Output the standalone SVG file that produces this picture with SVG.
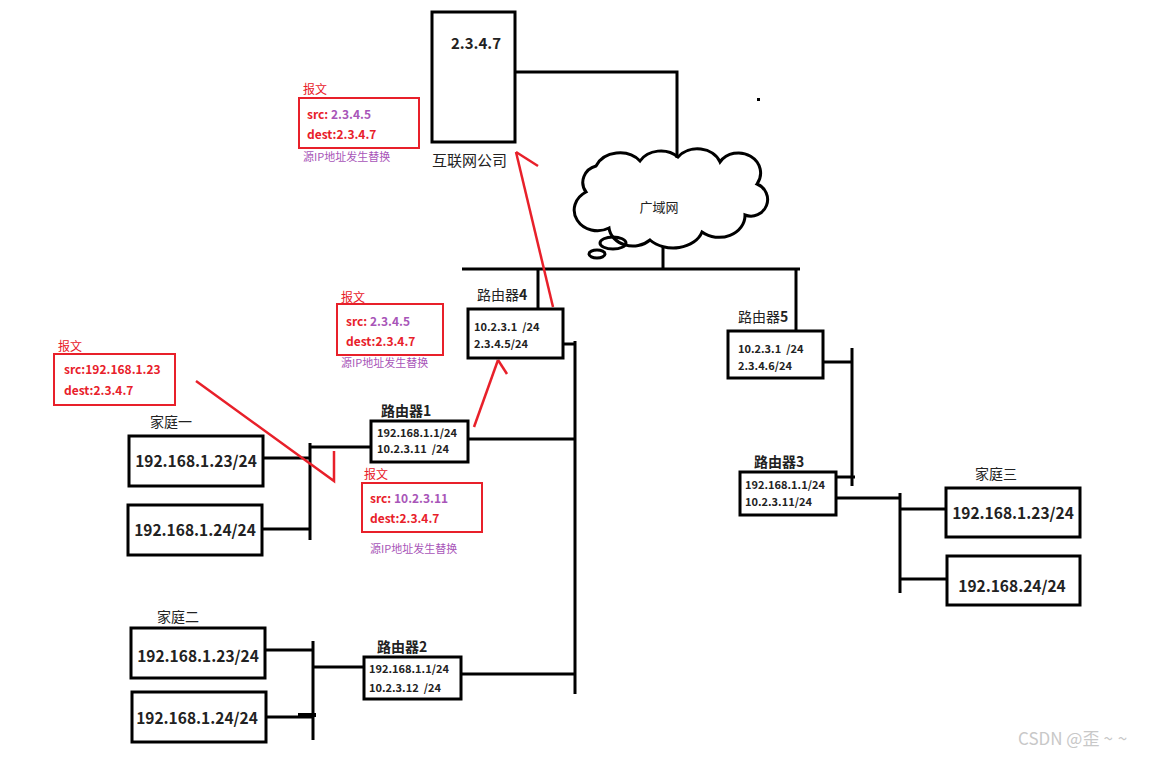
<svg xmlns="http://www.w3.org/2000/svg" width="1164" height="758" viewBox="0 0 1164 758">
<style>
.box{fill:#fff;stroke:#000;stroke-width:3}
.ln{stroke:#000;stroke-width:3;fill:none}
.red{stroke:#e8202a;stroke-width:2.5;fill:none}
.rbox{fill:none;stroke:#e8202a;stroke-width:2}
text{font-family:"Microsoft YaHei","Noto Sans CJK SC","Liberation Sans",sans-serif;fill:#222;white-space:pre}
.host{font-size:15.5px;font-weight:bold}
.rl{font-size:14px}
.ip{font-size:11px;font-weight:bold}
.pk{font-size:12px;font-weight:bold;fill:#e8202a}
.pv{fill:#a855b8}
.pt{font-size:12px;fill:#e8202a}
.note{font-size:11px;fill:#a855b8}
</style>
<rect width="1164" height="758" fill="#fff"/>
<g id="connectors">
<polyline class="ln" points="515,72 677,72 677,158"/>
<line class="ln" x1="663" y1="246" x2="663" y2="269"/>
<line class="ln" x1="462" y1="269" x2="800" y2="269"/>
<line class="ln" x1="538" y1="269" x2="538" y2="309"/>
<line class="ln" x1="796" y1="269" x2="796" y2="331"/>
<polyline class="ln" points="563,344 576,344"/>
<line class="ln" x1="575" y1="341" x2="575" y2="694"/>
<line class="ln" x1="468" y1="439" x2="575" y2="439"/>
<line class="ln" x1="461" y1="674" x2="575" y2="674"/>
<line class="ln" x1="310" y1="443" x2="310" y2="540"/>
<line class="ln" x1="310" y1="447" x2="371" y2="447"/>
<line class="ln" x1="263" y1="458" x2="310" y2="458"/>
<line class="ln" x1="262" y1="529" x2="310" y2="529"/>
<line class="ln" x1="313" y1="641" x2="313" y2="740"/>
<line class="ln" x1="313" y1="667" x2="364" y2="667"/>
<line class="ln" x1="265" y1="650" x2="313" y2="650"/>
<line class="ln" x1="266" y1="717" x2="313" y2="717"/>
<line stroke="#000" stroke-width="4" x1="298" y1="715" x2="316" y2="715"/>
<line class="ln" x1="823" y1="362" x2="852" y2="362"/>
<line class="ln" x1="852" y1="348" x2="852" y2="486"/>
<line class="ln" x1="836" y1="477" x2="855" y2="477"/>
<line class="ln" x1="836" y1="498" x2="900" y2="498"/>
<line class="ln" x1="900" y1="493" x2="900" y2="593"/>
<line class="ln" x1="900" y1="509" x2="946" y2="509"/>
<line class="ln" x1="900" y1="579" x2="947" y2="579"/>
<rect x="757" y="98" width="3" height="3" fill="#000"/>
<polyline class="red" points="196,381 334,481 334,451"/>
<line class="red" x1="474" y1="427" x2="498" y2="360"/>
<line class="red" x1="498" y1="360" x2="507" y2="374"/>
<line class="red" x1="553" y1="307" x2="516" y2="152"/>
<line class="red" x1="516" y1="152" x2="538" y2="166"/>
</g>
<g id="company">
<rect class="box" x="432" y="12" width="83" height="130"/>
<text x="476" y="49" font-size="15" font-weight="bold" text-anchor="middle">2.3.4.7</text>
<text x="432" y="166" font-size="15">互联网公司</text>
</g>
<g id="wan">
<path class="ln" d="M586,192 A18,17 0 0 1 596,166 A26,22 0 0 1 640,161 A24,20 0 0 1 678,157 A24,20 0 0 1 720,162 A22,20 0 0 1 757,184 A16,16 0 0 1 745,215 A26,22 0 0 1 702,232 A30,22 0 0 1 650,240 A24,20 0 0 1 609,228 A18,16 0 0 1 586,192 Z"/>
<ellipse class="ln" cx="613" cy="243" rx="13" ry="6" stroke-width="2.5"/>
<ellipse class="ln" cx="597" cy="254" rx="8" ry="4" stroke-width="2.5"/>
<text x="659" y="212" font-size="13" text-anchor="middle">广域网</text>
</g>
<g id="router4">
<rect class="box" x="468" y="309" width="95" height="49"/>
<text class="rl" x="477" y="300">路由器<tspan font-weight="bold">4</tspan></text>
<text class="ip" x="474" y="331" xml:space="preserve">10.2.3.1  /24</text>
<text class="ip" x="474" y="348">2.3.4.5/24</text>
</g>
<g id="router5">
<rect class="box" x="728" y="331" width="95" height="47"/>
<text class="rl" x="738" y="322">路由器<tspan font-weight="bold">5</tspan></text>
<text class="ip" x="738" y="353" xml:space="preserve">10.2.3.1  /24</text>
<text class="ip" x="738" y="370">2.3.4.6/24</text>
</g>
<g id="router1">
<rect class="box" x="371" y="421" width="97" height="41"/>
<text class="rl" x="381" y="416" font-weight="bold">路由器1</text>
<text class="ip" x="377" y="437">192.168.1.1/24</text>
<text class="ip" x="377" y="453" xml:space="preserve">10.2.3.11  /24</text>
</g>
<g id="router2">
<rect class="box" x="364" y="657" width="97" height="42"/>
<text class="rl" x="377" y="652" font-weight="bold">路由器2</text>
<text class="ip" x="369" y="673">192.168.1.1/24</text>
<text class="ip" x="369" y="692" xml:space="preserve">10.2.3.12  /24</text>
</g>
<g id="router3">
<rect class="box" x="740" y="472" width="96" height="43"/>
<text class="rl" x="754" y="467" font-weight="bold">路由器3</text>
<text class="ip" x="745" y="489">192.168.1.1/24</text>
<text class="ip" x="745" y="506">10.2.3.11/24</text>
</g>
<g id="home1">
<text x="150" y="427" font-size="14">家庭一</text>
<rect class="box" x="129" y="436" width="134" height="50"/>
<text class="host" x="196" y="467" text-anchor="middle">192.168.1.23/24</text>
<rect class="box" x="128" y="505" width="134" height="50"/>
<text class="host" x="195" y="536" text-anchor="middle">192.168.1.24/24</text>
</g>
<g id="home2">
<text x="157" y="622" font-size="14">家庭二</text>
<rect class="box" x="131" y="628" width="134" height="50"/>
<text class="host" x="198" y="662" text-anchor="middle">192.168.1.23/24</text>
<rect class="box" x="132" y="692" width="134" height="50"/>
<text class="host" x="197" y="724" text-anchor="middle">192.168.1.24/24</text>
</g>
<g id="home3">
<text x="975" y="479" font-size="14">家庭三</text>
<rect class="box" x="946" y="488" width="134" height="49"/>
<text class="host" x="1013" y="519" text-anchor="middle">192.168.1.23/24</text>
<rect class="box" x="947" y="556" width="133" height="49"/>
<text class="host" x="1012" y="592" text-anchor="middle">192.168.24/24</text>
</g>
<g id="packet-top">
<text class="pt" x="303" y="94">报文</text>
<rect class="rbox" x="299" y="98" width="120" height="50"/>
<text class="pk" x="307" y="119">src: <tspan class="pv">2.3.4.5</tspan></text>
<text class="pk" x="307" y="139">dest:2.3.4.7</text>
<text class="note" x="303" y="161">源IP地址发生替换</text>
</g>
<g id="packet-r4">
<text class="pt" x="341" y="302">报文</text>
<rect class="rbox" x="337" y="304" width="106" height="51"/>
<text class="pk" x="346" y="326">src: <tspan class="pv">2.3.4.5</tspan></text>
<text class="pk" x="346" y="346">dest:2.3.4.7</text>
<text class="note" x="341" y="367">源IP地址发生替换</text>
</g>
<g id="packet-home1">
<text class="pt" x="58" y="351">报文</text>
<rect class="rbox" x="54" y="354" width="121" height="51"/>
<text class="pk" x="64" y="374">src:192.168.1.23</text>
<text class="pk" x="64" y="395">dest:2.3.4.7</text>
</g>
<g id="packet-r1">
<text class="pt" x="364" y="479">报文</text>
<rect class="rbox" x="362" y="483" width="120" height="49"/>
<text class="pk" x="370" y="503">src: <tspan class="pv">10.2.3.11</tspan></text>
<text class="pk" x="370" y="523">dest:2.3.4.7</text>
<text class="note" x="370" y="553">源IP地址发生替换</text>
</g>
<text x="1018" y="745" font-size="17" style="fill:#c8c8c8">CSDN @歪<tspan letter-spacing="5" dx="4">~~</tspan></text>
</svg>
